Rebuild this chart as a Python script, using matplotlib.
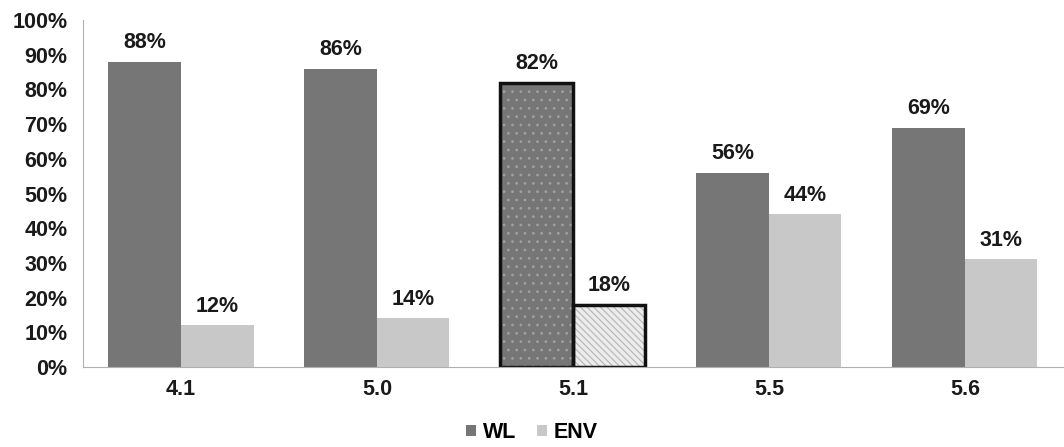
import matplotlib.pyplot as plt
import numpy as np

# categories and values (percent)
versions = ['4.1', '5.0', '5.1', '5.5', '5.6']
wl = [88, 86, 82, 56, 69]
env = [12, 14, 18, 44, 31]
highlight = '5.1'

dark = '#767676'
light = '#c8c8c8'

plt.rcParams['font.family'] = ['Liberation Sans', 'DejaVu Sans']
plt.rcParams['font.weight'] = 'bold'
plt.rcParams['hatch.linewidth'] = 0.8

fig = plt.figure(figsize=(10.64, 4.47), dpi=100)
ax = fig.add_axes([0.078, 0.179, 0.921, 0.776])

x = np.arange(len(versions))
w = 0.37
fs = 15.5

b1 = ax.bar(x - w / 2, wl, w, color=dark, label='WL', linewidth=0)
b2 = ax.bar(x + w / 2, env, w, color=light, label='ENV', linewidth=0)

# highlighted release gets hatching and a black frame
i = versions.index(highlight)
ax.bar(x[i] - w / 2, wl[i], w, color=dark, edgecolor='#a0a0a0', hatch='..', linewidth=0)
ax.bar(x[i] + w / 2, env[i], w, color='#ececec', edgecolor='#b4b4b4', hatch='\\\\\\\\\\', linewidth=0)
ax.bar(x[i] - w / 2, wl[i], w, fill=False, edgecolor='#111111', linewidth=2.5)
ax.bar(x[i] + w / 2, env[i], w, fill=False, edgecolor='#111111', linewidth=2.5)

for xs, vals in ((x - w / 2, wl), (x + w / 2, env)):
    for xx, v in zip(xs, vals):
        ax.annotate(f'{v}%', (xx, v), xytext=(0, 6), textcoords='offset points',
                    ha='center', va='bottom', fontsize=fs, fontweight='bold', color='#1a1a1a')

ax.set_xlim(-0.5, len(versions) - 0.5)
ax.set_ylim(0, 100)
ax.set_yticks(range(0, 101, 10))
ax.set_yticklabels([f'{t}%' for t in range(0, 101, 10)])
ax.set_xticks(x)
ax.set_xticklabels(versions)
ax.tick_params(length=0, labelsize=fs, colors='#1a1a1a')
ax.tick_params(axis='x', pad=9)
ax.tick_params(axis='y', pad=11)

for s in ['top', 'right']:
    ax.spines[s].set_visible(False)
ax.spines['left'].set_color('#b0b0b0')
ax.spines['bottom'].set_color('#b0b0b0')

fig.legend(handles=[b1, b2], labels=['WL', 'ENV'], loc='lower center',
           bbox_to_anchor=(0.5, -0.035), ncol=2, frameon=False, fontsize=fs,
           handlelength=0.45, handleheight=0.45, handletextpad=0.3, columnspacing=1.0)

fig.savefig('out.png', dpi=100)
